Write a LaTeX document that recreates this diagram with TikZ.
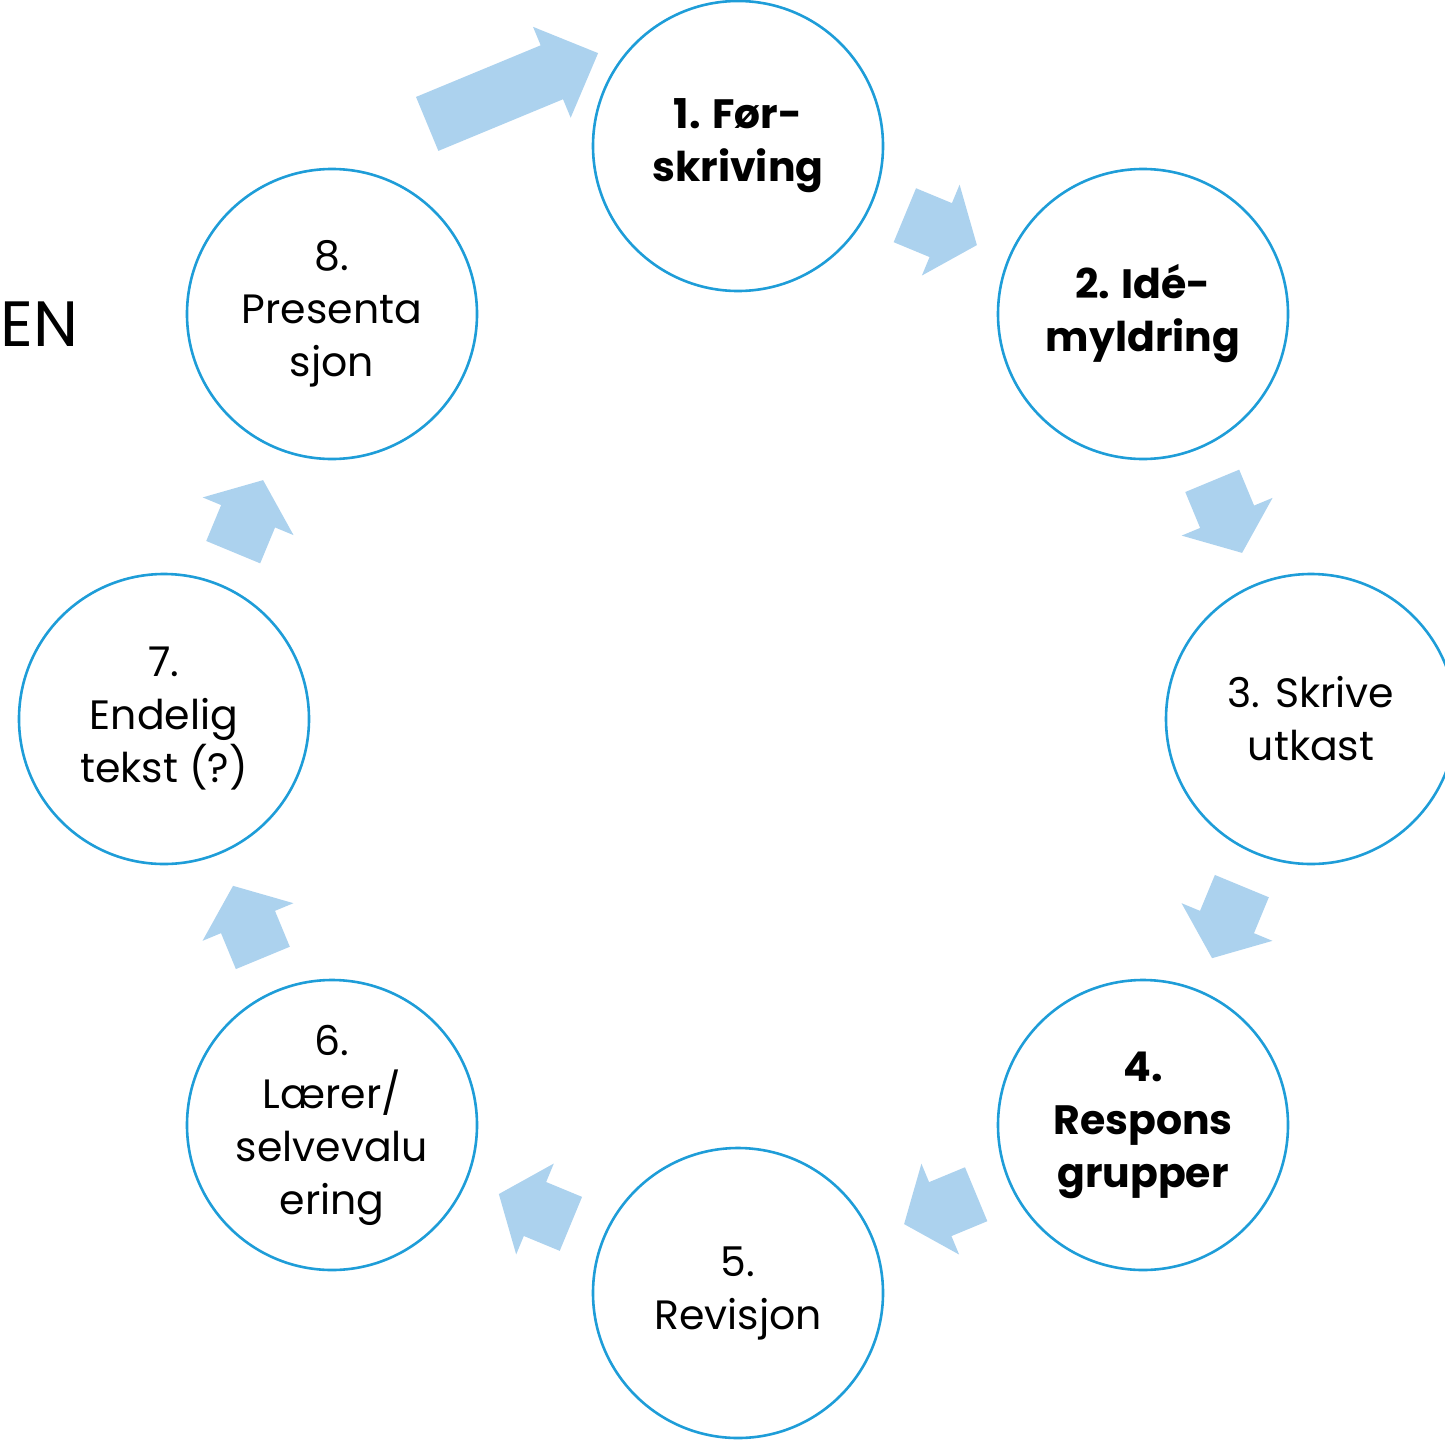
\documentclass[tikz,border=0pt]{standalone}
\usepackage{fontspec}
\setmainfont{Poppins}
\usetikzlibrary{shapes.arrows,calc}
\definecolor{ringblue}{RGB}{30,157,216}
\definecolor{flowblue}{RGB}{172,210,238}

\begin{document}
\begin{tikzpicture}[
    x=1pt, y=-1pt,
    stage/.style={circle, draw=ringblue, line width=2.6pt, fill=white, minimum size=290pt, inner sep=0pt, align=center, font=\fontsize{41}{53}\selectfont},
    keystage/.style={stage, font=\fontsize{41}{53}\selectfont\bfseries},
    flow/.style={single arrow, fill=flowblue, draw=none, inner xsep=0pt, inner ysep=29pt, single arrow head extend=20pt, single arrow tip angle=103, minimum height=78pt, anchor=tail, sloped, allow upside down},
    title/.style={font=\fontsize{64}{70}\selectfont, anchor=west, inner sep=0pt}
]
\useasboundingbox (0,0) rectangle (1445,1440);

% Stages of the cycle
\node[keystage] (s1) at (738,146) {1. Før-\\skriving};
\node[keystage] (s2) at (1143,314) {2. Idé-\\myldring};
\node[stage] (s3) at (1311,719) {3. Skrive\\utkast};
\node[keystage] (s4) at (1143,1125) {4.\\Respons\\grupper};
\node[stage] (s5) at (738,1293) {5.\\Revisjon};
\node[stage] (s6) at (332,1125) {6.\\Lærer/\\selvevalu\\ering};
\node[stage] (s7) at (164,719) {7.\\Endelig\\tekst (?)};
\node[stage] (s8) at (332,314) {8.\\Presenta\\sjon};

% Heading, cut at the left edge
\node[title] (heading) at (0,324) {EN};

% Arrows between stages
\path (s1) -- node[flow, pos=0.234] {} (s2);
\path (s2) -- node[flow, pos=0.234] {} (s3);
\path (s3) -- node[flow, pos=0.234] {} (s4);
\path (s4) -- node[flow, pos=0.234] {} (s5);
\path (s5) -- node[flow, pos=0.234] {} (s6);
\path (s6) -- node[flow, pos=0.234] {} (s7);
\path (s7) -- node[flow, pos=0.234] {} (s8);

% Back to the start
\coordinate (loopback) at ($(s8)!0.5!(s1)+(-108,-106)$);
\node[flow, rotate=22.5, minimum height=185pt, single arrow tip angle=89] (restart) at (loopback) {};

\end{tikzpicture}
\end{document}
